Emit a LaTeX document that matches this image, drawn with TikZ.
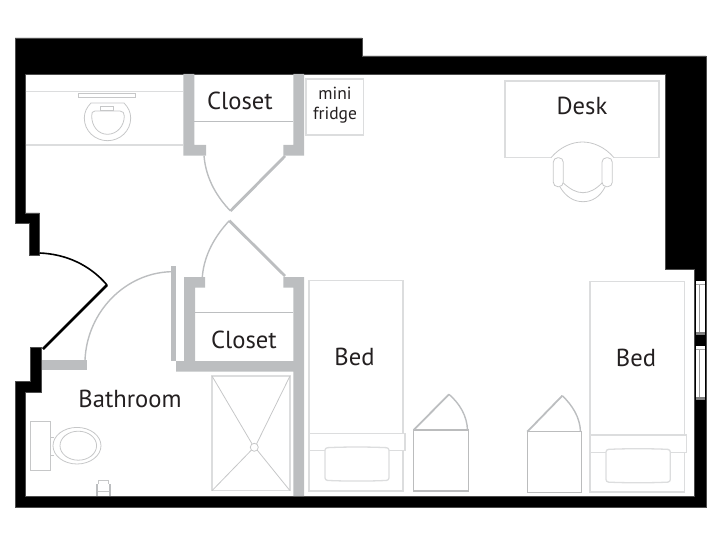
\documentclass[tikz,border=0pt]{standalone}
\usepackage{fontspec}
\setmainfont{PT Sans}
\usepackage{xcolor}
\definecolor{wallgray}{HTML}{BCBEC0}
\definecolor{fixgray}{HTML}{DCDDDE}
\definecolor{labelink}{HTML}{231F20}
\tikzset{
	wallblack/.style={fill=black,draw=black!70,line width=0.4pt},
	wallgrey/.style={fill=wallgray,draw=none},
	fixture/.style={draw=fixgray,line width=1.3pt},
	thinfix/.style={draw=fixgray!90!black,line width=0.8pt},
	doorarc/.style={draw=wallgray,line width=1.4pt},
	doorleaf/.style={draw=wallgray,line width=2.8pt},
	roomlabel/.style={text=labelink,font=\fontsize{24.6}{26}\selectfont,inner sep=0pt},
	smalllabel/.style={text=labelink,font=\fontsize{17.5}{20}\selectfont,inner sep=0pt,align=center},
}
\begin{document}
\begin{tikzpicture}[x=1pt,y=-1pt]
	\useasboundingbox (0,0) rectangle (720,540);
	% outer walls
	\filldraw[wallblack] (29,255) -- (29,223) -- (15,223) -- (15,38) -- (362,38) -- (362,56) -- (706,56) -- (706,507) -- (15,507) -- (15,381) -- (30.5,381) -- (30.5,347) -- (41.5,347) -- (41.5,392) -- (25.5,392) -- (25.5,496) -- (694,496) -- (694,269) -- (665,269) -- (665,74) -- (25.5,74) -- (25.5,213) -- (39.5,213) -- (39.5,255) -- cycle;
	% windows
	\foreach \wintop/\winbot in {281/335,346/400}{
		\fill[white] (695.5,\wintop) rectangle (704.5,\winbot);
		\draw[gray!80,line width=1pt] (699.7,\wintop+3) -- (699.7,\winbot-3);
		\draw[gray!70,line width=0.6pt] (695.5,\wintop+3) -- (704.5,\wintop+3);
		\fill[gray] (695.5,\winbot-3) rectangle (704.5,\winbot);
	}
	% entry door
	\draw[black,line width=1.6pt] (39.5,253) .. controls (66,254) and (90,265) .. (107,285);
	\draw[black,line width=2.8pt] (107,285) -- (43,349);
	% grey walls
	\fill[wallgrey] (183.3,74) -- (194.3,74) -- (194.3,145) -- (206,145) -- (206,155.7) -- (183.3,155.7) -- cycle;
	\fill[wallgrey] (293.3,74) -- (304,74) -- (304,155.7) -- (283.3,155.7) -- (283.3,145) -- (293.3,145) -- cycle;
	\fill[wallgrey] (184,277) -- (205,277) -- (205,287.7) -- (195,287.7) -- (195,361) -- (293.3,361) -- (293.3,287.7) -- (283.3,287.7) -- (283.3,277) -- (304,277) -- (304,496) -- (293.3,496) -- (293.3,371.7) -- (176,371.7) -- (176,361) -- (184,361) -- cycle;
	\fill[wallgrey] (41.5,360) rectangle (87,370.3);
	\fill[wallgrey] (170.7,266) rectangle (176,361);
	% closet shelves
	\draw[wallgray,line width=0.8pt] (194.3,121.7) -- (293.3,121.7);
	\draw[wallgray,line width=0.8pt] (195,312.7) -- (293.3,312.7);
	% closet and bathroom doors
	\draw[doorarc] (204,155.7) .. controls (206,180) and (218,198) .. (230.5,211);
	\draw[doorleaf] (230.5,211) -- (285,156);
	\draw[doorarc] (202.3,277) .. controls (204,255) and (215,236) .. (229.3,220.7);
	\draw[doorleaf] (229.3,220.7) -- (285,276);
	\draw[doorarc] (85,360) .. controls (87,312) and (125,273) .. (171,271.7);
	% vanity
	\draw[fixture] (25.5,91.7) -- (183.3,91.7);
	\draw[fixture] (25.5,145) -- (183.3,145);
	\draw[thinfix] (78.3,93.7) rectangle (135,97.7);
	\draw[thinfix] (91,103) -- (124,103) .. controls (128,107) and (130.7,112) .. (130.7,118) .. controls (130.7,131) and (120,140.7) .. (107.5,140.7) .. controls (95,140.7) and (84.3,131) .. (84.3,118) .. controls (84.3,112) and (87,107) .. (91,103) -- cycle;
	\draw[thinfix] (95,111) -- (120,111) .. controls (123,111) and (124.3,113) .. (124.3,116) .. controls (124.3,126) and (117,134.3) .. (107.5,134.3) .. controls (98,134.3) and (91.7,126) .. (91.7,116) .. controls (91.7,113) and (92,111) .. (95,111) -- cycle;
	\draw[thinfix] (100,106) rectangle (113.7,110.5);
	% toilet
	\draw[thinfix] (30.3,421.3) rectangle (50.7,470.7);
	\draw[thinfix] (50.7,437) -- (54,437);
	\draw[thinfix] (50.7,455) -- (54,455);
	\draw[thinfix] (77,445.7) ellipse (24 and 18.3);
	\draw[thinfix] (78.3,445.7) ellipse (18.3 and 14.5);
	% towel bar
	\fill[wallgray] (95.7,484) rectangle (98,496);
	\fill[wallgray] (108.7,484) rectangle (111,496);
	\draw[thinfix] (98,484) -- (98,480) -- (108.7,480) -- (108.7,484);
	\draw[thinfix] (98,491.7) -- (108.7,491.7);
	% shower
	\draw[fixture] (212,376) rectangle (290,490.7);
	\draw[thinfix] (254.3,447.3) circle (4);
	\draw[thinfix] (212,376) -- (252,443.8);
	\draw[thinfix] (290,376) -- (256.6,443.8);
	\draw[thinfix] (212,490.7) -- (251.4,450.1);
	\draw[thinfix] (290,490.7) -- (257.2,450.1);
	% mini fridge and desk
	\draw[fixture] (306,79) rectangle (363.3,135);
	\draw[fixture] (551,157.7) -- (505,157.7) -- (505,81) -- (659,81) -- (659,157.7) -- (614,157.7);
	% chair
	\draw[thinfix] (551,157.7) .. controls (560,147) and (572,142) .. (582.5,142) .. controls (593,142) and (605,147) .. (614,157.7);
	\draw[thinfix,rounded corners=4.5pt] (553.3,157.7) rectangle (563.3,186.7);
	\draw[thinfix,rounded corners=4.5pt] (602,157.7) rectangle (612.3,186.7);
	\draw[thinfix] (560,187) .. controls (566,197) and (574,201.7) .. (583,201.7) .. controls (592,201.7) and (600,197) .. (605,187);
	\draw[thinfix] (563.3,183) .. controls (570,189) and (576,192.7) .. (583,192.7) .. controls (590,192.7) and (596,189) .. (602,183);
	% beds
	\foreach \bedl/\bedr/\bedtop/\bedbot/\bandtop/\pilll/\pillr in {309/403/280.7/491/433.3/325/389,590/684.3/281.7/492/435/606/670.3}{
		\draw[fixture] (\bedl,\bedtop) rectangle (\bedr,\bedbot);
		\draw[fixture,fill=white] (\bedl,\bandtop) rectangle (\bedr+2,\bandtop+17.5);
		\draw[fixture,fill=white,rounded corners=2.5pt] (\pilll,\bandtop+14.5) .. controls (\pilll+20,\bandtop+13.5) and (\pillr-20,\bandtop+13.5) .. (\pillr,\bandtop+14.5) -- (\pillr,\bandtop+47) .. controls (\pillr-20,\bandtop+48) and (\pilll+20,\bandtop+48) .. (\pilll,\bandtop+47) -- cycle;
	}
	% night stands
	\draw[fixture,draw=fixgray!85!black] (413.7,430) rectangle (468.3,491);
	\draw[doorleaf,line width=1.8pt] (413.7,430) -- (449,394.3);
	\draw[doorarc] (449,394.3) .. controls (460,404) and (467,416) .. (467.5,430);
	\draw[fixture,draw=fixgray!85!black] (527.3,431.7) rectangle (581.7,492.3);
	\draw[doorleaf,line width=1.8pt] (527.3,431.7) -- (562.3,395.7);
	\draw[doorarc] (562.3,395.7) .. controls (572,405) and (580,417) .. (580.5,431.7);
	% labels
	\node[roomlabel] (closetup) at (240,101) {Closet};
	\node[roomlabel] (closetlow) at (244,340) {Closet};
	\node[smalllabel] (fridge) at (335,105.5) {mini\\fridge};
	\node[roomlabel] (desk) at (582,106) {Desk};
	\node[roomlabel] (bedone) at (354.5,357) {Bed};
	\node[roomlabel] (bedtwo) at (636,358) {Bed};
	\node[roomlabel] (bath) at (130,399) {Bathroom};
\end{tikzpicture}
\end{document}
